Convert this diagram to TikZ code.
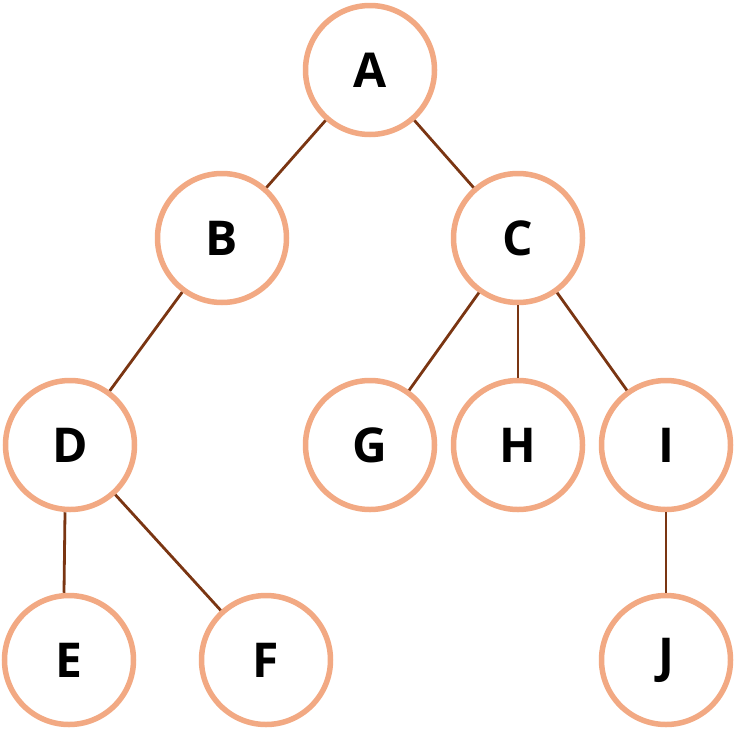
\documentclass[tikz,border=0pt]{standalone}
\usepackage{fontspec}
\setmainfont{Open Sans}
\definecolor{ring}{HTML}{F2A983}
\definecolor{edge}{HTML}{7A3512}
\begin{document}
\begin{tikzpicture}[x=1pt,y=-1pt,
  vert/.style={circle,draw=ring,line width=5.5pt,fill=white,minimum size=129pt,inner sep=0pt,font=\fontsize{48}{48}\selectfont\bfseries},
  link/.style={draw=edge,line width=2.8pt}]
\useasboundingbox (0,0) rectangle (736,731);
\node[vert] (A) at (370,70) {A};
\node[vert] (B) at (222,238) {B};
\node[vert] (C) at (518,238) {C};
\node[vert] (D) at (70,445) {D};
\node[vert] (G) at (370,445) {G};
\node[vert] (H) at (518,445) {H};
\node[vert] (I) at (666,445) {I};
\node[vert] (E) at (69,660) {E};
\node[vert] (F) at (266,660) {F};
\node[vert] (J) at (666,660) {J};
\path[link] (A) -- (B);
\path[link] (A) -- (C);
\path[link] (B) -- (D);
\path[link] (C) -- (G);
\path[link] (C) -- (H);
\path[link] (C) -- (I);
\path[link] ([xshift=-5pt]D.south) -- ([xshift=-5pt]E.north);
\path[link] (D) -- (F);
\path[link] (I) -- (J);
\end{tikzpicture}
\end{document}
